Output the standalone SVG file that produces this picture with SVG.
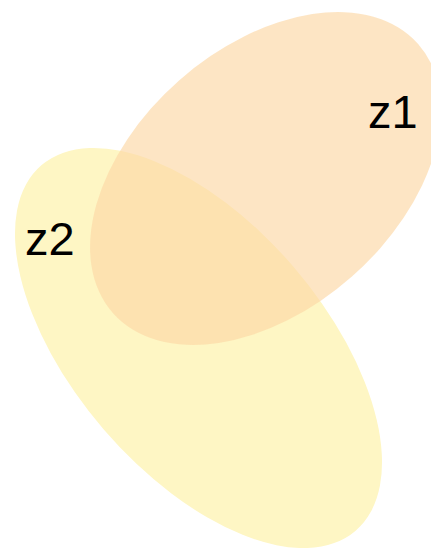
<svg xmlns="http://www.w3.org/2000/svg" width="431" height="548" viewBox="0 0 431 548">
<style>
.set { stroke: none; }
.lbl { font-family: "Liberation Sans", Arial, sans-serif; font-size: 47px; fill: #000; }
</style>
<rect width="431" height="548" fill="#fff"/>
<g id="z2">
<ellipse class="set" cx="198.5" cy="348" rx="241" ry="125" transform="rotate(49.3 198.5 348)" fill="#fef6c4"/>
<text class="lbl" x="25" y="255">z2</text>
</g>
<g id="z1">
<ellipse class="set" cx="265.5" cy="178.5" rx="203.5" ry="130.7" transform="rotate(-41.4 265.5 178.5)" fill="#fcd8a6" fill-opacity="0.66"/>
<text class="lbl" x="368" y="128">z1</text>
</g>
<g id="connectors"></g>
</svg>
